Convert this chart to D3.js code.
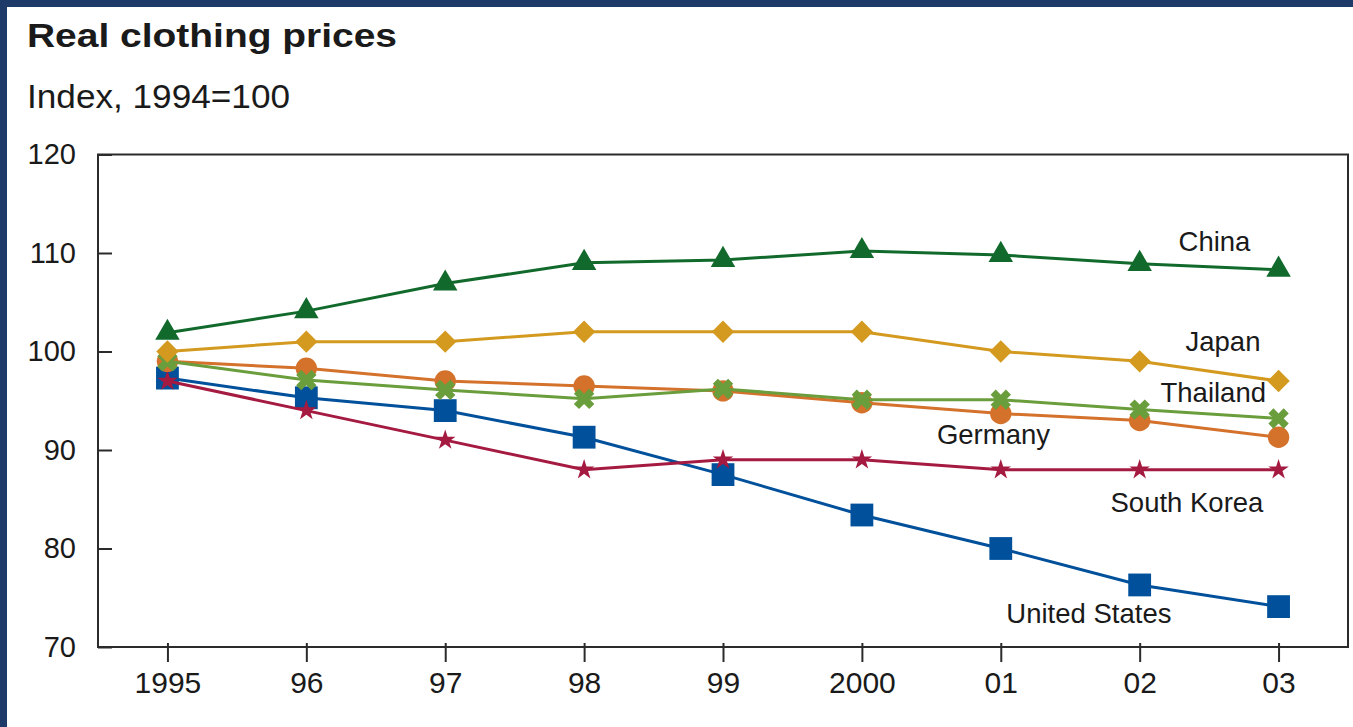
<!DOCTYPE html>
<html>
<head>
<meta charset="utf-8">
<script src="https://cdnjs.cloudflare.com/ajax/libs/d3/7.8.5/d3.min.js"></script>
<style>
  html, body { margin: 0; padding: 0; background: #1d3a68; }
  svg { display: block; }
  text { font-family: "Liberation Sans", Arial, Helvetica, sans-serif; fill: #1a1a1a; }
</style>
</head>
<body>
<div id="chart"></div>
<script>
// Chart data
const years = [1995, 1996, 1997, 1998, 1999, 2000, 2001, 2002, 2003];
const yearLabels = ["1995", "96", "97", "98", "99", "2000", "01", "02", "03"];
const yTicks = [70, 80, 90, 100, 110, 120];

const usValues       = [97.3, 95.3, 94.0, 91.3, 87.5, 83.4, 80.0, 76.3, 74.1];
const koreaValues    = [97.0, 94.0, 91.0, 88.0, 89.0, 89.0, 88.0, 88.0, 88.0];
const germanyValues  = [99.0, 98.3, 97.0, 96.5, 96.0, 94.8, 93.7, 93.0, 91.3];
const thailandValues = [99.0, 97.1, 96.1, 95.2, 96.2, 95.1, 95.1, 94.1, 93.2];
const japanValues    = [100.0, 101.0, 101.0, 102.0, 102.0, 102.0, 100.0, 99.0, 97.0];
const chinaValues    = [101.9, 104.1, 106.9, 109.0, 109.3, 110.2, 109.8, 108.9, 108.3];

// Global const
const W = 1353, H = 727;
const margin = {top: 154.5, right: 5, bottom: 80, left: 98};

const svg = d3.select("#chart")
  .append("svg")
    .attr("width", W)
    .attr("height", H);

// Blue background with white panel
svg.append("rect").attr("width", W).attr("height", H).attr("fill", "#1d3a68");
svg.append("rect")
  .attr("x", 7).attr("y", 7)
  .attr("width", W - 7).attr("height", H - 7)
  .attr("fill", "#ffffff");

const x = d3.scaleLinear()
  .domain([1994.5, 2003.5])
  .range([margin.left, W - margin.right]);

const y = d3.scaleLinear()
  .domain([70, 120])
  .range([H - margin.bottom, margin.top]);

// Title and subtitle
svg.append("text")
  .attr("x", 27).attr("y", 47)
  .attr("font-size", "34px")
  .attr("font-weight", "bold")
  .attr("textLength", 370)
  .attr("lengthAdjust", "spacingAndGlyphs")
  .text("Real clothing prices");

svg.append("text")
  .attr("x", 27).attr("y", 108)
  .attr("font-size", "34px")
  .attr("textLength", 263)
  .attr("lengthAdjust", "spacingAndGlyphs")
  .text("Index, 1994=100");

// Frame
svg.append("rect")
  .attr("x", x.range()[0]).attr("y", y.range()[1])
  .attr("width", x.range()[1] - x.range()[0])
  .attr("height", y.range()[0] - y.range()[1])
  .attr("fill", "none")
  .attr("stroke", "#2b2b2b")
  .attr("stroke-width", 2);

// Y axis
const yAxis = svg.append("g")
  .attr("transform", "translate(" + x.range()[0] + ",0)")
  .call(d3.axisLeft(y).tickValues(yTicks).tickSizeInner(-14).tickSizeOuter(0).tickPadding(22));
yAxis.select(".domain").remove();
yAxis.selectAll("line").attr("stroke", "#2b2b2b").attr("stroke-width", 2);
yAxis.selectAll("text")
  .attr("font-size", "29px")
  .attr("font-family", "Liberation Sans, Arial, sans-serif")
  .attr("fill", "#1a1a1a");

// X axis
const xAxis = svg.append("g")
  .attr("transform", "translate(0," + y.range()[0] + ")")
  .call(d3.axisBottom(x).tickValues(years).tickFormat((d, i) => yearLabels[i])
        .tickSizeInner(15).tickSizeOuter(0).tickPadding(10));
xAxis.select(".domain").remove();
xAxis.selectAll("line").attr("y1", -4).attr("stroke", "#2b2b2b").attr("stroke-width", 2);
xAxis.selectAll("text")
  .attr("font-size", "30px")
  .attr("font-family", "Liberation Sans, Arial, sans-serif")
  .attr("fill", "#1a1a1a");

// Series, drawn bottom to top
const series = [
  {name: "United States", values: usValues, color: "#00509b", symbol: d3.symbolSquare, size: 520, rotate: 0,
   label: {year: 2001.04, value: 72.4}},
  {name: "South Korea", values: koreaValues, color: "#a51a40", symbol: d3.symbolStar, size: 130, rotate: 0,
   label: {year: 2001.79, value: 83.7}},
  {name: "Germany", values: germanyValues, color: "#d4712b", symbol: d3.symbolCircle, size: 360, rotate: 0,
   label: {year: 2000.54, value: 90.6}},
  {name: "Thailand", values: thailandValues, color: "#6a9d3b", symbol: d3.symbolCross, size: 260, rotate: 45,
   label: {year: 2002.15, value: 94.9}},
  {name: "Japan", values: japanValues, color: "#d39a1f", symbol: d3.symbolSquare, size: 250, rotate: 45,
   label: {year: 2002.33, value: 100.05}},
  {name: "China", values: chinaValues, color: "#116a2c", symbol: d3.symbolTriangle, size: 260, rotate: 0,
   label: {year: 2002.28, value: 110.2}}
];

const line = d3.line()
  .x((d, i) => x(years[i]))
  .y(d => y(d));

series.forEach(s => {
  const g = svg.append("g");
  g.append("path")
    .datum(s.values)
    .attr("d", line)
    .attr("fill", "none")
    .attr("stroke", s.color)
    .attr("stroke-width", 3);

  g.selectAll("path.marker")
    .data(s.values)
    .enter()
    .append("path")
      .attr("class", "marker")
      .attr("d", d3.symbol().type(s.symbol).size(s.size))
      .attr("transform", (d, i) => "translate(" + x(years[i]) + "," + y(d) + ") rotate(" + s.rotate + ")")
      .attr("fill", s.color);
});

// Series labels
svg.selectAll("text.label")
  .data(series)
  .enter()
  .append("text")
    .attr("class", "label")
    .attr("x", d => x(d.label.year))
    .attr("y", d => y(d.label.value))
    .attr("font-size", "27.5px")
    .text(d => d.name);
</script>
</body>
</html>
